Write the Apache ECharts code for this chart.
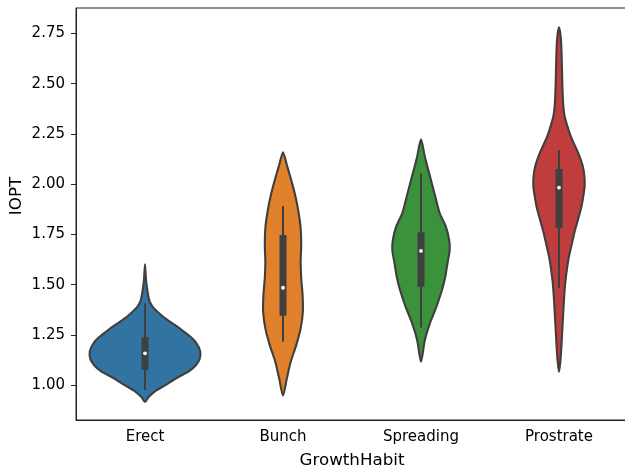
<!DOCTYPE html>
<html>
<head>
<meta charset="utf-8">
<script src="https://cdn.jsdelivr.net/npm/echarts@6/dist/echarts.min.js"></script>
<style>
  html, body { margin: 0; padding: 0; background: #fff; }
  #chart { width: 625px; height: 471px; }
</style>
</head>
<body>
<div id="chart"></div>
<script>
// categories on the x axis
const categories = ['Erect', 'Bunch', 'Spreading', 'Prostrate'];
const yTicks = [1.0, 1.25, 1.5, 1.75, 2.0, 2.25, 2.5, 2.75];

// violin outlines: IOPT value + relative density (1 = widest violin)
const erectY = [1.602, 1.52, 1.46, 1.42, 1.39, 1.36, 1.33, 1.30, 1.27, 1.24, 1.21, 1.17, 1.13, 1.10, 1.07, 1.04, 1.00, 0.97, 0.94, 0.917];
const erectD = [0, 0.02, 0.05, 0.08, 0.14, 0.25, 0.38, 0.54, 0.69, 0.83, 0.93, 1.0, 0.99, 0.92, 0.80, 0.60, 0.36, 0.18, 0.06, 0];

const bunchY = [2.159, 2.095, 2.029, 1.946, 1.863, 1.781, 1.698, 1.615, 1.532, 1.449, 1.366, 1.283, 1.200, 1.117, 1.035, 0.949];
const bunchD = [0, 0.07, 0.14, 0.22, 0.28, 0.32, 0.33, 0.32, 0.33, 0.355, 0.36, 0.32, 0.24, 0.14, 0.07, 0];

const spreadingY = [2.223, 2.137, 2.021, 1.938, 1.855, 1.789, 1.723, 1.673, 1.607, 1.540, 1.474, 1.391, 1.308, 1.225, 1.117];
const spreadingD = [0, 0.07, 0.18, 0.26, 0.34, 0.45, 0.51, 0.52, 0.48, 0.44, 0.38, 0.28, 0.16, 0.07, 0];

const prostrateY = [2.780, 2.72, 2.62, 2.50, 2.40, 2.34, 2.29, 2.24, 2.19, 2.14, 2.09, 2.04, 1.99, 1.94, 1.88, 1.82, 1.76, 1.70, 1.64, 1.58, 1.50, 1.40, 1.30, 1.20, 1.12, 1.066];
const prostrateD = [0, 0.035, 0.05, 0.06, 0.075, 0.10, 0.15, 0.21, 0.29, 0.37, 0.43, 0.46, 0.465, 0.44, 0.40, 0.34, 0.28, 0.23, 0.18, 0.145, 0.11, 0.085, 0.065, 0.045, 0.025, 0];

// inner box stats per category
const whiskerLow = [0.977, 1.217, 1.288, 1.482];
const q1 = [1.076, 1.346, 1.490, 1.781];
const medians = [1.159, 1.485, 1.668, 1.983];
const q3 = [1.239, 1.747, 1.761, 2.076];
const whiskerHigh = [1.408, 1.892, 2.054, 2.170];

const profiles = [
  { y: erectY, d: erectD },
  { y: bunchY, d: bunchD },
  { y: spreadingY, d: spreadingD },
  { y: prostrateY, d: prostrateD }
];
const colors = ['#3274a1', '#e1812c', '#3a923a', '#c03d3e'];
const lineColor = '#3f3f3f';
const font = 'DejaVu Sans';

function renderViolin(params, api) {
  const i = api.value(0);
  const prof = profiles[i];
  const halfMax = api.size([1, 0])[0] * 0.4;
  const left = [];
  const right = [];
  for (let k = 0; k < prof.y.length; k++) {
    const c = api.coord([i, prof.y[k]]);
    const w = prof.d[k] * halfMax;
    left.push([c[0] - w, c[1]]);
    if (prof.d[k] > 0) right.push([c[0] + w, c[1]]);
  }
  const pts = left.concat(right.reverse());

  const top = api.coord([i, whiskerHigh[i]]);
  const bot = api.coord([i, whiskerLow[i]]);
  const b3 = api.coord([i, q3[i]]);
  const b1 = api.coord([i, q1[i]]);
  const med = api.coord([i, medians[i]]);
  const cx = top[0];

  return {
    type: 'group',
    children: [
      {
        type: 'polygon',
        shape: { points: pts, smooth: 0.25 },
        style: { fill: colors[i], stroke: lineColor, lineWidth: 2.1, lineJoin: 'round' }
      },
      {
        type: 'line',
        shape: { x1: cx, y1: top[1], x2: cx, y2: bot[1] },
        style: { stroke: lineColor, lineWidth: 2 }
      },
      {
        type: 'rect',
        shape: { x: cx - 3.5, y: b3[1], width: 7, height: b1[1] - b3[1] },
        style: { fill: lineColor }
      },
      {
        type: 'circle',
        shape: { cx: cx, cy: med[1], r: 1.9 },
        style: { fill: '#fff' }
      }
    ]
  };
}

const chart = echarts.init(document.getElementById('chart'));
chart.setOption({
  animation: false,
  backgroundColor: '#fff',
  grid: {
    left: 76, top: 8, right: -3, bottom: 51,
    outerBoundsMode: 'none',
    show: true, borderColor: '#222', borderWidth: 1
  },
  xAxis: {
    type: 'category',
    data: categories,
    name: 'GrowthHabit',
    nameLocation: 'middle',
    nameGap: 32,
    nameTextStyle: { fontSize: 16.7, fontFamily: font, color: '#000' },
    axisLine: { lineStyle: { color: '#222', width: 1 } },
    axisTick: { alignWithLabel: true, length: 5, lineStyle: { color: '#222' } },
    axisLabel: { fontSize: 15, fontFamily: font, color: '#000', margin: 10 },
    splitLine: { show: false }
  },
  yAxis: {
    type: 'value',
    min: 0.8275,
    max: 2.876,
    axisLine: { show: true, lineStyle: { color: '#222', width: 1 } },
    axisTick: { show: true, length: 5, customValues: yTicks, lineStyle: { color: '#222' } },
    axisLabel: {
      fontSize: 15, fontFamily: font, color: '#000', margin: 11,
      customValues: yTicks,
      formatter: v => v.toFixed(2)
    },
    splitLine: { show: false }
  },
  graphic: [{
    type: 'text',
    x: 17, y: 196,
    rotation: Math.PI / 2,
    style: {
      text: 'IOPT', fontSize: 16.7, fontFamily: font, fill: '#000',
      align: 'center', verticalAlign: 'middle'
    }
  }],
  series: [{
    type: 'custom',
    renderItem: renderViolin,
    data: categories.map((c, i) => [i]),
    z: 3
  }]
});
</script>
</body>
</html>
